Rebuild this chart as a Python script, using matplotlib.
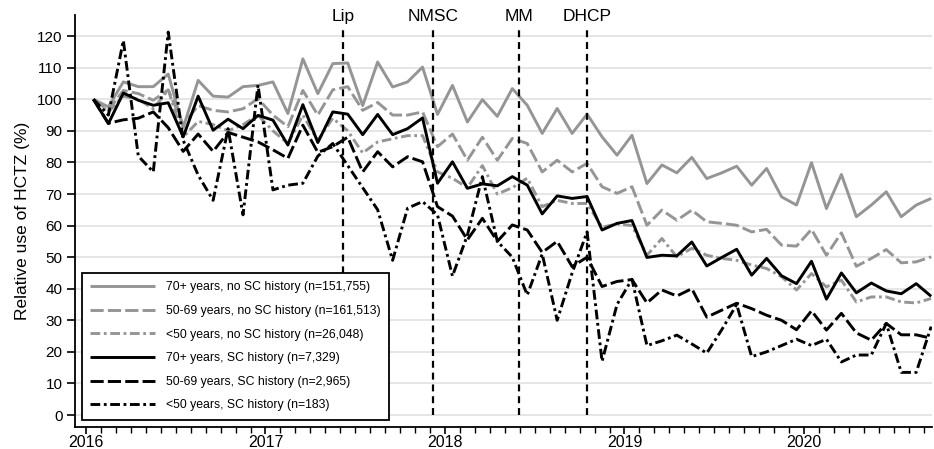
import matplotlib
matplotlib.use("Agg")
import matplotlib.pyplot as plt
import numpy as np

plt.rcParams['font.family'] = ['Liberation Sans', 'DejaVu Sans']
plt.rcParams['lines.scale_dashes'] = False

# Monthly data, Jan 2016 - Sep 2020 (index 0..56)
start_year = 2016
n_months = 57

old_nosc = [100, 97.6, 105.5, 104, 104, 108, 91, 106, 101, 100.7, 104, 104.4,
            105.5, 95.5, 112.8, 101.8, 111.3, 111.5, 98, 111.8, 103.9, 105.5, 110.2, 95.2,
            104.4, 92.8, 99.9, 94.6, 103.4, 98.1, 89.2, 97.1, 89.2, 95.3, 88.1, 82.3,
            88.6, 73.3, 79.2, 76.7, 81.6, 74.9, 76.7, 78.8, 72.8, 78.1, 69.1, 66.5,
            79.9, 65.4, 76.2, 62.8, 66.5, 70.7, 62.8, 66.5, 68.6]
mid_nosc = [100, 96.5, 102.8, 101.8, 99.7, 103, 92, 98, 96.5, 96, 97, 100.2,
            95, 91.3, 102.8, 95, 103, 104, 96.5, 99, 95, 95, 96, 85,
            89, 80.7, 88, 80.7, 87.6, 86, 77, 80.7, 77, 79.7, 72.3, 70.2,
            72.3, 60.1, 64.9, 61.7, 64.9, 61.2, 60.7, 60.1, 58, 58.8, 53.8, 53.5,
            58.8, 50.6, 57.7, 47.1, 49.6, 52.4, 48.2, 48.5, 50.1]
young_nosc = [100, 96, 101, 100, 97, 103, 88, 93, 92, 90, 92, 95,
              90, 86, 95, 87, 94, 90, 83, 86.5, 87.5, 88.5, 88.5, 77,
              75, 72, 79, 70, 72, 75, 66, 68, 67, 67, 59.5, 60.5,
              60, 50.6, 55.9, 50.1, 52.8, 50.6, 49.6, 49, 47.5, 46.4, 43.8, 39.6,
              44.8, 40.6, 42.7, 35.8, 37.4, 37.4, 35.8, 35.5, 36.9]
old_sc = [100, 92.3, 102, 99.7, 98.1, 98.9, 88.1, 101, 90.2, 93.7, 90.7, 94.9,
          93.4, 85.5, 98.3, 86.3, 96, 95.3, 88.8, 95.2, 88.8, 90.7, 94.1, 73.4,
          80.2, 71.8, 73.2, 72.6, 75.5, 72.8, 63.7, 69.4, 68.6, 69.2, 58.6, 60.7,
          61.6, 49.9, 50.6, 50.4, 54.8, 47.2, 49.9, 52.5, 44.3, 49.6, 44.1, 41.6,
          48.7, 36.7, 45, 38.7, 41.8, 39.3, 38.4, 41.6, 37.6]
mid_sc = [100, 92.4, 93.5, 94, 96, 91, 83.5, 89, 83.5, 89.5, 88, 86.5,
          84, 81.3, 91.8, 83.2, 85, 88, 77, 83.4, 78.6, 81.8, 80.2, 66,
          63, 55.5, 62.3, 55, 60.2, 58.6, 51.5, 55, 47, 50, 40.7, 42.3,
          42.9, 35.5, 39.6, 37.7, 40, 31, 33.2, 35.4, 33.7, 31.6, 30, 27,
          33, 26.9, 32.2, 26, 23.7, 29, 25.4, 25.4, 24.3]
young_sc = [100, 95, 118.6, 82, 77, 121.3, 87, 76, 68, 90.7, 63.4, 104.5,
            71.3, 72.8, 73.4, 82, 86, 79, 72, 65, 49, 65.5, 67.6, 63.4,
            44, 57, 75.5, 55, 50, 38, 51, 30, 45, 58, 17, 35,
            43, 22, 23.5, 25.3, 22.5, 19.6, 27, 35, 18.5, 20, 22, 24,
            22, 24, 16.8, 19, 19, 29, 13.5, 13.5, 28]

labels = ["70+ years, no SC history (n=151,755)",
          "50-69 years, no SC history (n=161,513)",
          "<50 years, no SC history (n=26,048)",
          "70+ years, SC history (n=7,329)",
          "50-69 years, SC history (n=2,965)",
          "<50 years, SC history (n=183)"]

event_names = ["Lip", "NMSC", "MM", "DHCP"]
event_dates = [2017.432, 2017.933, 2018.412, 2018.791]

yticks = list(range(0, 121, 10))
xticks = [2016, 2017, 2018, 2019, 2020]

x = start_year + (np.arange(n_months) + 0.5) / 12.0

fig = plt.figure(figsize=(9.34, 4.49), dpi=100)
ax = fig.add_axes([75/934, 22/449, 857/934, 412/449])

gray = '#959595'
solid = (0, ())
dashed = (0, (9.5, 3.0))
dashdot = (0, (7, 2.6, 2, 2.6))
styles = [(gray, solid), (gray, dashed), (gray, dashdot),
          ('black', solid), ('black', dashed), ('black', dashdot)]
series = [old_nosc, mid_nosc, young_nosc, old_sc, mid_sc, young_sc]

for yy in yticks:
    ax.axhline(yy, color='#e6e6e6', lw=1.4, zorder=0)

handles = []
for s, (c, ls), lab in zip(series, styles, labels):
    h, = ax.plot(x, s, color=c, linestyle=ls, lw=2.1, label=lab, zorder=3,
                 solid_joinstyle='miter', dash_capstyle='butt')
    handles.append(h)

for d, name in zip(event_dates, event_names):
    ax.plot([d, d], [0, 123], color='black', lw=1.6, linestyle=(0, (5, 3.5)), zorder=4)
    ax.text(d, 126.2, name, ha='center', va='center', fontsize=12.5)

ax.set_xlim(2015.939, 2020.713)
ax.set_ylim(-3.8, 126.7)

ax.set_yticks(yticks)
ax.set_xticks(xticks)
ax.set_xticks(np.arange(2016, 2020.72, 1/12), minor=True)
ax.tick_params(axis='y', labelsize=11, length=6, width=1.2, pad=3)
ax.tick_params(axis='x', which='major', labelsize=11.5, length=5, width=1.2, pad=0.5)
ax.tick_params(axis='x', which='minor', length=4, width=1.0)
ax.set_ylabel("Relative use of HCTZ (%)", fontsize=12.5, labelpad=5)

for sp in ['top', 'right']:
    ax.spines[sp].set_visible(False)
for sp in ['left', 'bottom']:
    ax.spines[sp].set_linewidth(1.3)

leg = ax.legend(handles=handles, loc='lower left', bbox_to_anchor=(0.008, 0.017),
                borderaxespad=0, fontsize=8.8, frameon=True, fancybox=False,
                edgecolor='black', framealpha=1, handlelength=5.3, handletextpad=0.85,
                labelspacing=0.95, borderpad=0.7)
leg.get_frame().set_linewidth(1.3)
leg.set_zorder(5)

fig.savefig("out.png", dpi=100)
